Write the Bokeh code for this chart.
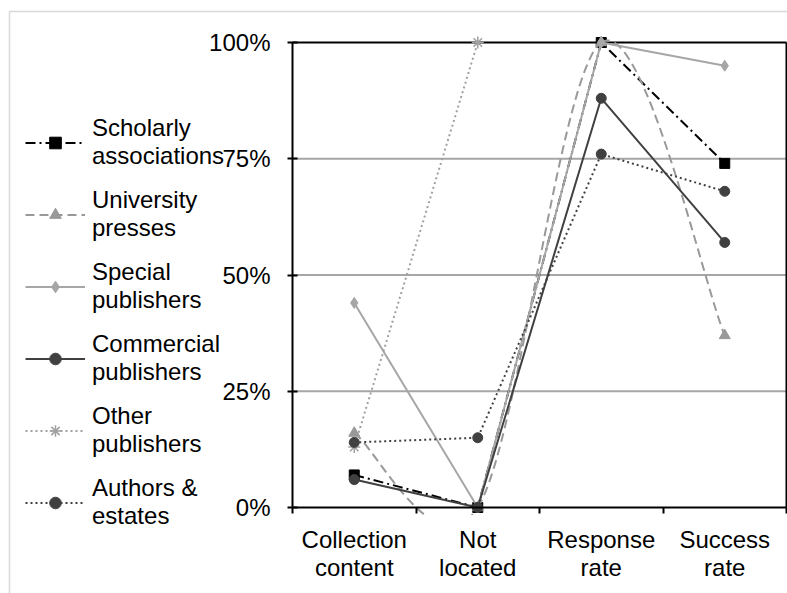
import numpy as np
from bokeh.plotting import figure
from bokeh.models import (Range1d, FixedTicker, Legend, LegendItem, BoxAnnotation)
from bokeh.embed import file_html
from bokeh.resources import INLINE

# ---------------- data ----------------
categories = ["Collection\ncontent", "Not\nlocated", "Response\nrate", "Success\nrate"]
y_ticks = [0, 0.25, 0.5, 0.75, 1.0]
y_tick_labels = ["0%", "25%", "50%", "75%", "100%"]

series_names = ["Scholarly\nassociations", "University\npresses", "Special\npublishers",
                "Commercial\npublishers", "Other\npublishers", "Authors &\nestates"]
scholarly = [0.07, 0.00, 1.00, 0.74]
university = [0.16, 0.00, 1.00, 0.37]
special = [0.44, 0.00, 1.00, 0.95]
commercial = [0.06, 0.00, 0.88, 0.57]
other = [0.13, 1.00, None, None]
authors = [0.14, 0.15, 0.76, 0.68]

# ---------------- styles ----------------
styles = [
    dict(color="#000000", dash="10 4 2 4", marker="square", size=10, width=2, smooth=False),
    dict(color="#999999", dash="9 5", marker="triangle", size=11, width=2, smooth=True),
    dict(color="#a6a6a6", dash="solid", marker="diamond", size=11, width=2, smooth=False),
    dict(color="#404040", dash="solid", marker="circle", size=10, width=2, smooth=False),
    dict(color="#a0a0a0", dash="2 3", marker="asterisk", size=12, width=2, smooth=False),
    dict(color="#404040", dash="2 3", marker="circle", size=10, width=2, smooth=False),
]
series_values = [scholarly, university, special, commercial, other, authors]

FONT = "Liberation Sans"
TEXT = "#000000"

# ---------------- layout (pixels) ----------------
W, H = 787, 593
PLOT_L, PLOT_R, PLOT_T, PLOT_B = 292, 786, 42, 507
OUTER_L, OUTER_T = 9, 11
CLIP_BELOW = 0.016   # smoothed line is hidden this far below the axis (as in the original)

n = len(categories)
xs = [i + 0.5 for i in range(n)]
xscale = (PLOT_R - PLOT_L) / n
yscale = (PLOT_B - PLOT_T) / (y_ticks[-1] - y_ticks[0])
x_start = -PLOT_L / xscale
x_end = n + (W - PLOT_R) / xscale
y_start = y_ticks[0] - (H - PLOT_B) / yscale
y_end = y_ticks[-1] + PLOT_T / yscale

p = figure(width=W, height=H, x_range=Range1d(x_start, x_end), y_range=Range1d(y_start, y_end),
           output_backend="svg", toolbar_location=None,
           min_border=0, min_border_left=0, min_border_right=0, min_border_top=0, min_border_bottom=0)
p.background_fill_color = "white"
p.border_fill_color = "white"
p.outline_line_color = None
p.xgrid.visible = False
p.ygrid.visible = False

# x axis (fixed at y = 0 within the frame)
p.xaxis.fixed_location = y_ticks[0]
p.xaxis.bounds = (0, n)
p.xaxis.ticker = FixedTicker(ticks=xs, minor_ticks=list(range(n + 1)))
p.xaxis.major_label_overrides = {x: c for x, c in zip(xs, categories)}
p.xaxis.major_tick_out = 0
p.xaxis.major_tick_in = 0
p.xaxis.minor_tick_out = 6
p.xaxis.minor_tick_in = 0
p.xaxis.minor_tick_line_color = "black"
p.xaxis.minor_tick_line_width = 2
p.xaxis.axis_line_color = "black"
p.xaxis.axis_line_width = 2
p.xaxis.major_label_standoff = 12
p.xaxis.major_label_text_font = FONT
p.xaxis.major_label_text_font_size = "24px"
p.xaxis.major_label_text_line_height = 1.06
p.xaxis.major_label_text_color = TEXT

# y axis (fixed at x = 0 within the frame)
p.yaxis.fixed_location = 0
p.yaxis.bounds = (y_ticks[0], y_ticks[-1])
p.yaxis.ticker = FixedTicker(ticks=y_ticks)
p.yaxis.major_label_overrides = {t: l for t, l in zip(y_ticks, y_tick_labels)}
p.yaxis.major_tick_in = 5
p.yaxis.major_tick_out = 5
p.yaxis.major_tick_line_color = "black"
p.yaxis.major_tick_line_width = 2
p.yaxis.minor_tick_line_color = None
p.yaxis.axis_line_color = "black"
p.yaxis.axis_line_width = 2
p.yaxis.major_label_standoff = 17
p.yaxis.major_label_text_font = FONT
p.yaxis.major_label_text_font_size = "24px"
p.yaxis.major_label_text_color = TEXT

# horizontal gridlines across the plot area only
inner = y_ticks[1:-1]
p.segment(x0=[0] * len(inner), x1=[n] * len(inner), y0=inner, y1=inner,
          line_color="#a6a6a6", line_width=2, level="underlay")
# plot-area border: top and right
p.segment(x0=[0, n], x1=[n, n], y0=[y_ticks[-1], y_ticks[0]], y1=[y_ticks[-1], y_ticks[-1]],
          line_color="black", line_width=2, level="underlay")


def smooth_controls(x, y):
    """Excel-like smoothed line: cubic Bezier control points from neighbours."""
    x = np.asarray(x, float); y = np.asarray(y, float)
    m = len(x)
    x0, y0, x1, y1, cx0, cy0, cx1, cy1 = ([] for _ in range(8))
    for i in range(m - 1):
        ip = max(i - 1, 0); inn = min(i + 2, m - 1)
        x0.append(x[i]); y0.append(y[i]); x1.append(x[i + 1]); y1.append(y[i + 1])
        cx0.append(x[i] + (x[i + 1] - x[ip]) / 6.0)
        cy0.append(y[i] + (y[i + 1] - y[ip]) / 6.0)
        cx1.append(x[i + 1] - (x[inn] - x[i]) / 6.0)
        cy1.append(y[i + 1] - (y[inn] - y[i]) / 6.0)
    return dict(x0=x0, y0=y0, x1=x1, y1=y1, cx0=cx0, cy0=cy0, cx1=cx1, cy1=cy1)


items = []
for name, vals, st in zip(series_names, series_values, styles):
    yv = [np.nan if v is None else v for v in vals]
    if st["smooth"]:
        p.bezier(**smooth_controls(xs, yv), line_color=st["color"], line_width=st["width"],
                 line_dash=st["dash"])
        # hide the part of the curve that dips below the axis, like the original chart
        p.quad(left=[xs[0]], right=[xs[1]], top=[y_ticks[0] - CLIP_BELOW],
               bottom=[y_ticks[0] - 0.1], fill_color="white", line_color=None)
        # a line renderer without visible points, used only for the legend sample
        lr = p.line(x=[xs[0], xs[1]], y=[np.nan, np.nan], line_color=st["color"],
                    line_width=st["width"], line_dash=st["dash"])
    else:
        lr = p.line(x=xs, y=yv, line_color=st["color"], line_width=st["width"], line_dash=st["dash"])
    sr = p.scatter(x=xs, y=yv, marker=st["marker"], size=st["size"], fill_color=st["color"],
                   line_color=st["color"], line_width=1.5 if st["marker"] == "asterisk" else 1)
    items.append(LegendItem(label=name, renderers=[lr, sr]))

legend = Legend(items=items, location=(25, 63), glyph_width=60, glyph_height=29,
                label_standoff=7, spacing=16, padding=0, margin=0,
                label_text_font=FONT, label_text_font_size="24px", label_text_color=TEXT,
                border_line_color=None, background_fill_alpha=0)
p.add_layout(legend)

# outer chart border (gray), only left and top edges fall inside the picture
p.add_layout(BoxAnnotation(left=x_start + OUTER_L / xscale, top=y_end - OUTER_T / yscale,
                           right=x_end + 1, bottom=y_start - 1,
                           fill_alpha=0, line_color="#808080", line_width=1.5))

open("out.html", "w").write(file_html(p, INLINE))
